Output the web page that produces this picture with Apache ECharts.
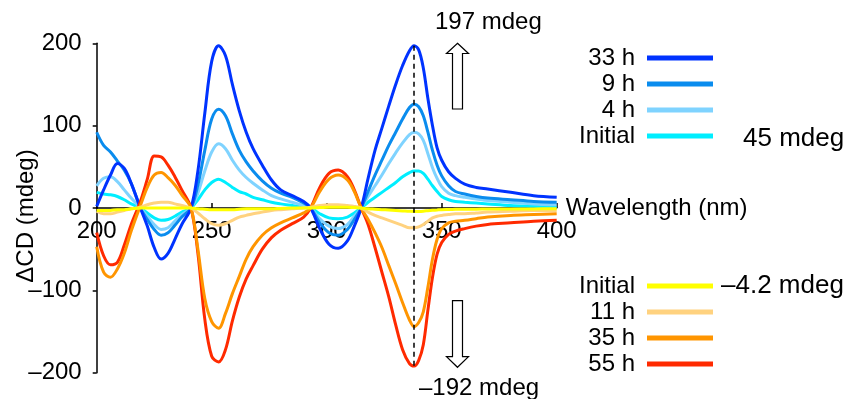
<!DOCTYPE html>
<html>
<head>
<meta charset="utf-8">
<script src="https://cdn.jsdelivr.net/npm/echarts@6/dist/echarts.min.js"></script>
<style>
  html, body { margin: 0; padding: 0; background: #fff; }
  #chart { width: 850px; height: 399px; }
</style>
</head>
<body>
<div id="chart"></div>
<script>
// Wavelength sampling grid (nm)
const wavelengths = [200, 203, 206, 209, 212, 215, 219, 222, 225, 228, 231, 234, 237, 241, 244, 247, 250, 253, 256, 259, 262, 265, 268, 272, 276, 280, 285, 290, 293, 297, 301, 305, 309, 312, 315, 318, 321, 324, 327, 330, 333, 336, 338, 340, 342, 344, 346, 348, 350, 353, 356, 360, 365, 370, 380, 390, 400];

// ΔCD (mdeg), positive-growing set
const cdPosInitial = [19, 17, 16, 14, 10, 5, 0, -6, -12, -15, -14, -10, -5, 0, 10, 22, 31, 35, 31, 25, 20, 17, 13, 10, 7, 5, 3, 1, 0, -7, -12, -13, -11, -6, 0, 7, 13, 19, 25, 31, 38, 43, 45, 45, 42, 35, 27, 20, 14, 10, 8, 7, 6, 5, 3, 2, 1];
const cd4h = [27, 36, 38, 32, 22, 12, 0, -10, -20, -26, -24, -16, -8, 0, 18, 45, 68, 78, 72, 58, 46, 37, 30, 22, 15, 11, 7, 3, 0, -13, -22, -25, -20, -10, 0, 14, 27, 40, 54, 67, 79, 89, 92, 90, 82, 66, 49, 36, 26, 18, 15, 13, 11, 9, 7, 5, 4];
const cd9h = [92, 76, 68, 57, 46, 30, 0, -14, -26, -33, -30, -21, -11, 0, 28, 70, 108, 120, 112, 90, 70, 56, 45, 33, 24, 18, 13, 6, 0, -18, -30, -33, -26, -14, 0, 20, 40, 58, 76, 92, 108, 122, 126, 123, 112, 92, 70, 52, 39, 27, 20, 17, 14, 12, 10, 8, 7];
const cd33h = [2, 22, 40, 54, 48, 30, 0, -22, -48, -62, -55, -38, -20, 0, 45, 115, 178, 197, 185, 150, 118, 92, 72, 52, 34, 22, 15, 8, 0, -25, -44, -49, -40, -22, 0, 36, 70, 97, 124, 150, 173, 191, 197, 192, 170, 133, 100, 73, 58, 44, 36, 29, 25, 23, 19, 15, 13];

// ΔCD (mdeg), negative-growing set
const cdNegInitial = [-3, -3, -3, -2, -2, -1, 0, 0, 0, 0, 0, 0, 0, 0, -1, -1.5, -2, -2, -2, -2, -1.5, -1, -1, -1, -1, -0.5, 0, 0, 0, 0.5, 1, 1, 1, 0.5, 0, -1, -1.5, -2, -2.5, -3, -3.5, -4, -4.2, -4.1, -3.8, -3.3, -2.8, -2.4, -2, -1.8, -1.6, -1.5, -1.4, -1.3, -1.2, -1.1, -1];
const cd11h = [-4, -7, -7, -5, -3, -1, 1, 4, 6, 7, 7, 5, 3, 0, -6, -13, -19, -21, -19, -15, -11, -9, -7, -5, -3, -2, -1, 0, 1, 3, 4, 4, 3, 2, 0, -5, -9, -12, -15, -18, -21, -24, -24, -23, -20, -16, -12, -10, -9, -8, -7, -7, -6, -5, -4, -3, -3];
const cd35h = [-47, -78, -84, -74, -55, -28, 3, 25, 40, 43, 37, 28, 16, 0, -50, -110, -138, -146, -128, -104, -83, -62, -47, -33, -24, -18, -12, -6, 0, 20, 35, 40, 34, 20, 0, -14, -30, -48, -70, -92, -115, -136, -144, -139, -126, -96, -62, -38, -25, -18, -16, -15, -13, -11, -9, -8, -7];
const cd55h = [-30, -58, -69, -66, -45, -20, 8, 35, 63, 62, 52, 38, 22, 0, -55, -135, -180, -187, -172, -137, -108, -86, -70, -50, -36, -27, -19, -11, 0, 25, 42, 46, 38, 22, 0, -20, -48, -78, -108, -142, -172, -189, -192, -185, -166, -124, -84, -56, -42, -32, -28, -25, -22, -20, -18, -16, -15];

// Axis ticks
const xTicks = { min: 200, max: 400, step: 50 };
const yTicks = { min: -200, max: 200, step: 100 };

// Series definitions (drawing order: first is bottom-most)
const seriesDefs = [
  { name: 'Initial|pos', values: cdPosInitial, color: '#00eeff' },
  { name: '4 h', values: cd4h, color: '#7fd3ff' },
  { name: '9 h', values: cd9h, color: '#0a8cee' },
  { name: '33 h', values: cd33h, color: '#0033ff' },
  { name: '55 h', values: cd55h, color: '#ff2a00' },
  { name: '35 h', values: cd35h, color: '#ff9500' },
  { name: '11 h', values: cd11h, color: '#ffd27f' },
  { name: 'Initial|neg', values: cdNegInitial, color: '#ffff00' }
];

const FONT = '"Liberation Sans", Arial, Helvetica, sans-serif';
const W = 850, H = 399;
const gridBox = { left: 96.7, right: 293.3, top: 43.3, bottom: 26.3 };
// The wavelength axis sits on the ΔCD = 0 line: shift it up from the grid bottom
const plotHeight = H - gridBox.top - gridBox.bottom;
const zeroOffset = -plotHeight * (0 - yTicks.min) / (yTicks.max - yTicks.min);

const chart = echarts.init(document.getElementById('chart'), null, { renderer: 'canvas', width: W, height: H });

const series = seriesDefs.map(function (d) {
  return {
    name: d.name,
    type: 'line',
    data: wavelengths.map(function (w, i) { return [w, d.values[i]]; }),
    smooth: 0.35,
    showSymbol: false,
    symbol: 'none',
    lineStyle: { color: d.color, width: 3 },
    itemStyle: { color: d.color },
    emphasis: { disabled: true }
  };
});

// Dashed guide at the 338 nm band, between its two extreme values
series[series.length - 1].markLine = {
  silent: true,
  symbol: ['none', 'none'],
  label: { show: false },
  lineStyle: { color: '#000', type: [5, 4], width: 1.5 },
  data: [[{ coord: [338, 197] }, { coord: [338, -192] }]]
};

const legendCommon = {
  orient: 'vertical',
  align: 'right',
  right: 137,
  padding: 0,
  itemWidth: 66,
  itemHeight: 5,
  itemGap: 2,
  icon: 'rect',
  selectedMode: false,
  formatter: function (name) { return name.split('|')[0]; },
  textStyle: { fontFamily: FONT, fontSize: 24, color: '#000', lineHeight: 24, padding: [0, 7, 0, 0] }
};

function arrowPoints(cx, tipY, headBaseY, shaftEndY) {
  const hw = 11, sw = 5;
  return [
    [cx, tipY], [cx + hw, headBaseY], [cx + sw, headBaseY], [cx + sw, shaftEndY],
    [cx - sw, shaftEndY], [cx - sw, headBaseY], [cx - hw, headBaseY]
  ];
}

function label(text, x, y, size) {
  return {
    type: 'text', x: x, y: y, silent: true,
    style: { text: text, fill: '#000', font: size + 'px ' + FONT, align: 'left', verticalAlign: 'middle' }
  };
}

chart.setOption({
  animation: false,
  backgroundColor: '#fff',
  grid: Object.assign({ containLabel: false, outerBoundsMode: 'none' }, gridBox),
  xAxis: {
    type: 'value',
    min: xTicks.min, max: xTicks.max, interval: xTicks.step,
    name: 'Wavelength (nm)',
    nameLocation: 'end',
    nameGap: 9,
    nameMoveOverlap: false,
    nameTextStyle: { fontFamily: FONT, fontSize: 24, color: '#000', align: 'left', verticalAlign: 'middle' },
    offset: zeroOffset,
    axisLine: { onZero: false, lineStyle: { color: '#000', width: 1.5 } },
    axisTick: { inside: true, length: 5, lineStyle: { color: '#000', width: 1.5 } },
    axisLabel: { margin: 11, fontFamily: FONT, fontSize: 24, color: '#000', hideOverlap: false },
    splitLine: { show: false }
  },
  yAxis: {
    type: 'value',
    min: yTicks.min, max: yTicks.max, interval: yTicks.step,
    name: 'ΔCD (mdeg)',
    nameLocation: 'middle',
    nameGap: 58,
    nameMoveOverlap: false,
    nameTextStyle: { fontFamily: FONT, fontSize: 24, color: '#000', padding: [0, 16, 0, 0] },
    axisLine: { onZero: false, lineStyle: { color: '#000', width: 1.5 } },
    axisTick: { length: 4, lineStyle: { color: '#000', width: 1.5 } },
    axisLabel: {
      margin: 15, fontFamily: FONT, fontSize: 24, color: '#000', hideOverlap: false,
      formatter: function (v) { return v < 0 ? '\u2013' + Math.abs(v) : String(v); }
    },
    splitLine: { show: false }
  },
  legend: [
    Object.assign({}, legendCommon, { top: 46, data: ['33 h', '9 h', '4 h', 'Initial|pos'] }),
    Object.assign({}, legendCommon, { top: 274, data: ['Initial|neg', '11 h', '35 h', '55 h'] })
  ],
  graphic: [
    label('197 mdeg', 435, 22, 24),
    label('\u2013192 mdeg', 419, 388, 24),
    label('45 mdeg', 743, 139, 26),
    label('\u20134.2 mdeg', 721, 286, 26),
    {
      type: 'polygon', silent: true,
      shape: { points: arrowPoints(457.5, 43.3, 53.5, 109) },
      style: { fill: '#fff', stroke: '#000', lineWidth: 1.2 }
    },
    {
      type: 'polygon', silent: true,
      shape: { points: arrowPoints(457.5, 367.3, 356.7, 300.7) },
      style: { fill: '#fff', stroke: '#000', lineWidth: 1.2 }
    }
  ],
  series: series
});
</script>
</body>
</html>
